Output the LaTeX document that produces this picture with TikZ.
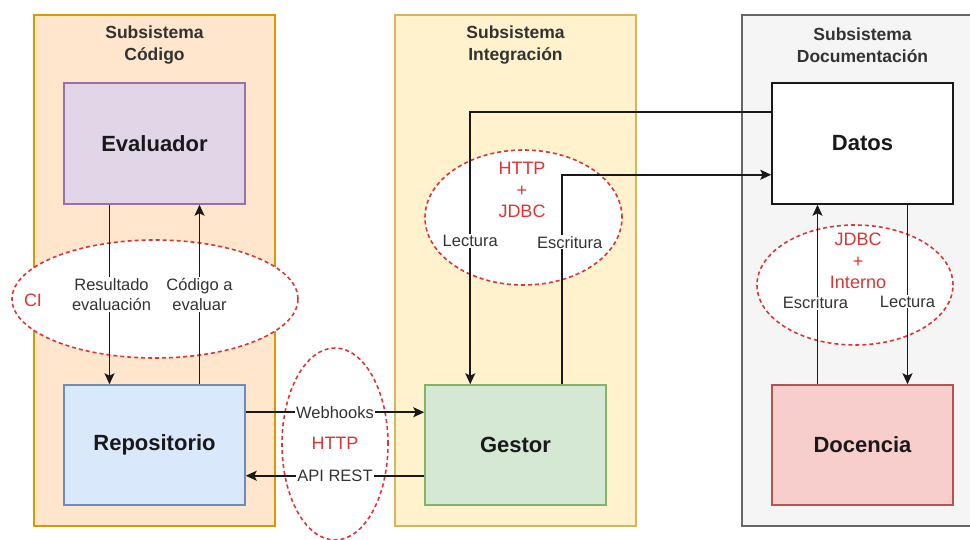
\documentclass[tikz,border=0pt]{standalone}
\usepackage{fontspec}
\setmainfont{Liberation Sans}
\usetikzlibrary{shapes.geometric,arrows.meta}
\definecolor{codfill}{HTML}{FFE6CC}\definecolor{codline}{HTML}{D79B00}
\definecolor{intfill}{HTML}{FFF2CC}\definecolor{intline}{HTML}{D6B656}
\definecolor{docfill}{HTML}{F5F5F5}\definecolor{docline}{HTML}{666666}
\definecolor{evfill}{HTML}{E1D5E7}\definecolor{evline}{HTML}{9673A6}
\definecolor{repfill}{HTML}{DAE8FC}\definecolor{repline}{HTML}{6C8EBF}
\definecolor{gesfill}{HTML}{D5E8D4}\definecolor{gesline}{HTML}{82B366}
\definecolor{dcfill}{HTML}{F8CECC}\definecolor{dcline}{HTML}{B85450}
\definecolor{redc}{HTML}{DD3535}
\definecolor{txtgray}{HTML}{333333}
\begin{document}
\begin{tikzpicture}[x=1pt,y=-1pt,
  container/.style={draw, line width=1.3pt, minimum width=241pt, minimum height=511pt, inner sep=0pt},
  ttl/.style={align=center, font=\fontsize{17.5}{22}\selectfont\bfseries, text=txtgray},
  oval/.style={ellipse, draw=redc, fill=white, line width=1.6pt, dash pattern=on 4pt off 3pt, inner sep=0pt},
  redtxt/.style={align=center, text=redc, font=\fontsize{18}{21.5}\selectfont, inner sep=0pt},
  boxn/.style={draw, line width=1.5pt, minimum width=181pt, minimum height=121pt, inner sep=0pt, font=\fontsize{22}{26}\selectfont\bfseries, text=black!90},
  arr/.style={draw=black!90, line width=1.7pt, -{Stealth[length=11pt,width=10pt,inset=2.5pt]}},
  lbl/.style={fill=white, inner sep=1pt, align=center, text=txtgray, font=\fontsize{16.5}{20.5}\selectfont}]
\useasboundingbox (0,0) rectangle (970,540);
\clip (0,0) rectangle (970,540);
% containers
\node[container, fill=codfill, draw=codline] (ccod) at (154.5,270.5) {};
\node[container, fill=intfill, draw=intline] (cint) at (515.5,270.5) {};
\node[container, fill=docfill, draw=docline] (cdoc) at (862.5,270.5) {};
\node[ttl] (tcod) at (154.5,45) {Subsistema\\Código};
\node[ttl] (tint) at (515.5,45) {Subsistema\\Integración};
\node[ttl] (tdoc) at (862.5,45) {Subsistema\\Documentación};
% ellipses
\node[oval, minimum width=286pt, minimum height=118pt] (eci) at (155,299) {};
\node[oval, minimum width=106pt, minimum height=192pt] (ehttp) at (335,444) {};
\node[oval, minimum width=197pt, minimum height=135pt] (ehj) at (523.5,217.5) {};
\node[oval, minimum width=196pt, minimum height=120pt] (eji) at (855,285) {};
\node[redtxt] (tci) at (33,300) {CI};
\node[redtxt] (thttp) at (335,443) {HTTP};
\node[redtxt] (thj) at (522,190) {HTTP\\+\\JDBC};
\node[redtxt] (tji) at (858,261) {JDBC\\+\\Interno};
% boxes
\node[boxn, fill=evfill, draw=evline] (evaluador) at (154.5,143.5) {Evaluador};
\node[boxn, fill=repfill, draw=repline, minimum height=120pt] (repositorio) at (154.5,445) {Repositorio};
\node[boxn, fill=gesfill, draw=gesline, minimum height=120pt] (gestor) at (515.5,445) {Gestor};
\node[boxn, fill=white, draw=black!90] (datos) at (862.5,143.5) {Datos};
\node[boxn, fill=dcfill, draw=dcline, minimum height=120pt] (docencia) at (862.5,445) {Docencia};
% connectors
\draw[arr] ([xshift=-45pt]evaluador.south) -- node[lbl, xshift=2pt] (lres) {Resultado\\evaluación} ([xshift=-45pt]repositorio.north);
\draw[arr] ([xshift=45pt]repositorio.north) -- node[lbl] (lcod) {Código a\\evaluar} ([xshift=45pt]evaluador.south);
\draw[arr] ([yshift=-28pt]repositorio.north east) -- node[lbl] (lweb) {Webhooks} ([yshift=-28pt]gestor.north west);
\draw[arr] ([yshift=30pt]gestor.south west) -- node[lbl] (lapi) {API REST} ([yshift=30pt]repositorio.south east);
\draw[arr] ([yshift=-30pt]datos.north west) -| node[lbl, pos=0.737] (llec1) {Lectura} ([xshift=46pt]gestor.north west);
\draw[arr] ([xshift=-45pt]gestor.north east) |- node[lbl, pos=0.339, xshift=8pt] (lesc1) {Escritura} ([yshift=30pt]datos.south west);
\draw[arr] ([xshift=-45pt]docencia.north) -- node[lbl, pos=0.453, xshift=-2pt] (lesc2) {Escritura} ([xshift=-45pt]datos.south);
\draw[arr] ([xshift=45pt]datos.south) -- node[lbl, pos=0.54] (llec2) {Lectura} ([xshift=45pt]docencia.north);
\end{tikzpicture}
\end{document}
